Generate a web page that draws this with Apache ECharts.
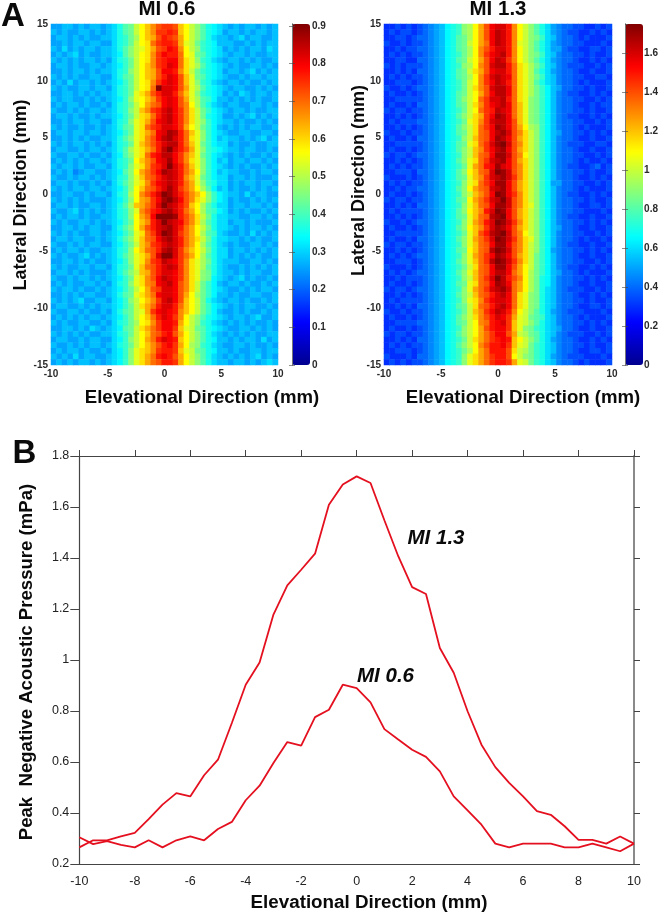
<!DOCTYPE html>
<html>
<head>
<meta charset="utf-8">
<style>html,body{margin:0;padding:0;background:#fff}#c{width:661px;height:914px}#c canvas{filter:blur(.4px)}</style>
<script src="https://cdn.jsdelivr.net/npm/echarts@6/dist/echarts.min.js"></script>
</head>
<body>
<div id="c"></div>
<script>
// Line plot readings (panel B), x = elevational direction in mm
var elevation = [-10,-9.5,-9,-8.5,-8,-7.5,-7,-6.5,-6,-5.5,-5,-4.5,-4,-3.5,-3,-2.5,-2,-1.5,-1,-0.5,0,0.5,1,1.5,2,2.5,3,3.5,4,4.5,5,5.5,6,6.5,7,7.5,8,8.5,9,9.5,10];
var mi06Line = [0.305,0.278,0.29,0.275,0.265,0.293,0.265,0.293,0.308,0.293,0.337,0.365,0.45,0.507,0.596,0.678,0.664,0.776,0.805,0.903,0.89,0.834,0.729,0.688,0.648,0.62,0.563,0.465,0.41,0.354,0.28,0.265,0.28,0.28,0.28,0.265,0.265,0.28,0.265,0.25,0.28];
var mi13Line = [0.265,0.293,0.293,0.308,0.322,0.376,0.433,0.478,0.465,0.548,0.609,0.753,0.903,0.99,1.178,1.293,1.354,1.417,1.609,1.688,1.72,1.694,1.548,1.407,1.286,1.259,1.047,0.95,0.799,0.668,0.58,0.518,0.465,0.407,0.393,0.348,0.295,0.295,0.28,0.308,0.28];

// Heatmap cells: one string per lateral row from +15 down to -15, one base-36 level per elevational column
// (level 0..z = 0..35 of the panel's peak pressure)
var mi06Peak = 0.9, mi13Peak = 1.75;
var mi06Rows = [
"aabbababbab ceghkmoqsttsomkigedc bababbabab",
"babaabbabab ceghkmoqttutomkigedc abbababbab",
"abbababaabb cefhjmopsutspmkigecb babcabbaab",
"aababbabbaa cefhkmnrtuutplkhfedb bbaabababb",
"bacababbabb cegiklnpstvuqmkifedc abababbacb",
"ababcabaabb cdgikmnqtvuurmlhgedc babbabaabb",
"babababbaba cefhkmnqtuvvrnlifecb abbababaab",
"abbabaabbab cdfhkmoqtuwvrnljgedc babaabbaba",
"aababbababb cefikmopsvvuqnkhfedc abbabcabab",
"bababaabbaa ceghkmopsuwvsolhgedc baababbabb",
"abacabbabab cdfhkmnqtvwvsolifecb abbabaabab",
"babaabbabba cefhkmnrzwwvspljgedc babbaababa",
"aabbabababb cefhlnpsuwwurolifedc abacbabbab",
"babbaababab cdfilmoqtvwvspljgfdb babababaab",
"ababbabaaba cefhkmprsvwvsqmjgecb abbaabbaba",
"baabababbab cefikoqtuwxvtqnkhfdc babbabaabb",
"abbabaababb cdfhknoruwxvtqnkhedc aababcabab",
"aababbabbaa cefilnpsvwxvtqnkifdc bbabaababa",
"babaabaabab ceghlnrtuwwvtpmkhfdb abababbaab",
"abbabbabbab cdfhlnprvwyxurolifdc baabbaabba",
"aabababaabb cegilnqsvxywurnlifdb cbbababcab",
"bababbababa cefhloqsuwxxurolhfdc cabaabaabb",
"abbaababbab cegjlnpruxzwusplifed cbbabbaaba",
"baabbabaaba cdgilnruvxxvtqolhfdc bababaabab",
"ababababbab cefhmoqsvwyvtqnlifdb cabbabbaba",
"babbabaabba cefilnqtuwzwurolifdc bababaabab",
"abab9abbaab cdgimprtvyxwurpmifdb cbbaababba",
"baababbabab cefilorsuwxwuqolhfdc cabbabaaab",
"abbabaababa cegilnqtvwxwurplifec cababbabba",
"bababbabbab cdfimorsuwywtrpmjgdb cabaababab",
"aabbaababba cefjmqsuwzywusqomifd cbbacabbaa",
"babababaaab cdfimpqtvyzxvsqnlifd cabaababab",
"abbabaabbab cegjoprtwzxwusomjgec cabbabbaba",
"baabcababab cefilqsuvxywurpmjgfd cababaabab",
"ababbabaabb cefimprvzzzyusqnkhec cbbaabbaba",
"babaabbabab cdfhmoquwzxwvsqnjgec cabbabaaab",
"aabbababbaa cegimpsuwxywurpmkhec cbababbaba",
"bababaabbab cdfhlnrtwzywtrpmjgfc baabacabab",
"abbabbaabab cegilorsvxywurpnkhec cbbababaab",
"baabababbaa cdfhkoqtuwxwurpmjgec babaabbaba",
"ababbabaabb cefimorsuxywtqomkhec cabbababab",
"babaabcabab cegilnpswzzwtrpmjgec cabababaab",
"aabbababaab cdfilnqtuxwvtqnljhec bbbaabbaba",
"babaabbabba cefhlorsuwxwtqnljgec baabababab",
"abbababaaab cegikopsuwwvtqnlihec bbababbaab",
"baababbabab cdfhlnqsvxwvtqnlihdc babcabaaba",
"ababaabbaba cefilnqrvwxvsqnkhfdb abbabaabab",
"babbabaabab cdfhkmpstwwvsqnkhfdc baabababba",
"aabababbaab ceghlnprvwwvspmjhfdb babaabbaab",
"bababcaabba cdfikmoqtwxvsomkhecb abbabaabab",
"abbaabababb cdfhknpruwwuromkhfdc bababbaaba",
"baabbabaaba ceghklptvwvuqomkhfdb aababaabab",
"ababababbab cdfhkmoruwvtqmkigedc babbabcaab",
"babaabbaaba cefhjmnqtvvupmkifecb abababaaba",
"aabbabacbab cdghknprtvvtolkhgedc baabbababa",
"babababaabb cefhkmorsuvspmkigecb abababaabb",
"abbaababbaa cdfikmpruwvuomkigedb bababbacab",
"baabababbab cefhkmoqsuvtpmjifecb aabbabaaba",
"ababbabaaba cdfilnoqtuutolkhgedb babaabbabb",
"babacabbaab cdfilnpruvuspmkigecb abababcaba",
"abababbabab cdfilnprsuutpmkigecb babbababcb"
];
var mi13Rows = [
"667676789ab defijmpsvwwuqmkigeca 9887766767",
"676776789ab defijmpsvxwuqmkigeca 9877667676",
"667767889ab deghjmpsvxwuqmkihfcb 9887676667",
"766767789ab deghkmprvxwuqlkigeca 9887766676",
"667677889ab deghjmqsuwwuqmkigeca a877667767",
"676767789ab defhjmqtvwxuqmkihfcb 9887767667",
"667766889ab deghkmpsvxwtqmkigeca 9887667676",
"767677789ab defijmqswxxurnljhfcb 9877766767",
"667676889ab deghknpsvwwurnljgeca 9887667667",
"676767789ab deghjmqtwxwvrnljhfcb 9887766776",
"667776789ab defhkmqtvxwurnljgecb 9887676667",
"766767889ab defhknqswxxvrnljhfdb a887767667",
"676676789ab deghkmpsvxxvrnljhfdb 9877667676",
"667777789ab degikmrtwwxurnlihfdb 9887766767",
"676676889ab deghknqtvwxvrolihfdb 9887667677",
"767767789ab defhkmrtuxwvrolihfdb 9887767667",
"667676789ab degiknptvyxvrolihfdb 9877667676",
"676777889ab defhlnqtwxxvsolihfdb 9887766767",
"667676789ab degiknrtvyxvspmjifdb 9887676667",
"766767789ab deghknrsvxywsqnkifdb a887767676",
"676676889ab defikorsvyxvspnkifdb 9887667667",
"667777789ab deghlnrtwyzwsqnkifdb 9877766776",
"676676789ab degikoqtvxyvspnkifdb 9887667667",
"767767889ab defikorsvyywsqmkifdb 9887766767",
"667676789ab degilnrtwxyvspnkifdb 9887676676",
"676767789ab defhlpruvywvsqnkifdb 9877667867",
"667776889ab degimorswzywsqnkifdb 9887767667",
"766676789ab deghloqtwxywtqnkifdb 9887667676",
"676767789ab defilnrtvyyvspnkifda a887766767",
"667677889ab degimprswxyvspnkifdb 9887676667",
"676676789ab defikoqsvzyvtqnkifdb 9877667676",
"767767789ab deghmprtwxzwsqnkifdb 9887767667",
"667676889ab defilorsvyywsqnlifdb 9887667767",
"676777789ab degimoquwzyvspnkifdb 9887766676",
"667676789ab deghlorsxyzvspnkifdb 9877667667",
"766767889ab defilpruwzywtqnkifdb 9887767676",
"676676789ab degimoqtwyxvspnkifdb a887667667",
"667777789ab defhlosuxyzwsqmkifdb 9887766767",
"676676889ab degilprtwzywtqnlifdb 9887676676",
"767767789ab defilorsvyyvsqnkifdb 9877667667",
"667676789ab deghmorsxzywsqnkifda 9887767676",
"676767889ab defilprtvyxvspnkhfdb 9887667667",
"667776789ab degilortxzywtqnkhfdb 9887766767",
"766676789ab defhknrsvyyvspmkhfdb 9877667676",
"676767889ab degilorsvxxvrpmjhfdb a887676667",
"667677789ab defikortwzxusqmjhedb 9887767676",
"676676789ab deghlnrsvyxvrpmjhedb 9887667667",
"767767889ab defilprtwxywrpmjhecb 9877766767",
"667676789ab degikorsuwxvrnlihecb 9887667676",
"676777789ab defilnqtvwwvrnlihecb 9887767667",
"667676889ab deghknrsuwxvrnlihecb 9887667767",
"766767789ab defhkoqtvxwuqmkigeca 9877766676",
"676676789ab degiknqsuwvtplkhgfcb 9887676667",
"667777889ab deghkmqruvwtolkigecb 9887767676",
"676676789ab defikmpsuvvtolihfecb a887667667",
"767767789ab degikmprtvvspkjhgecb 9877766767",
"667676889ab defhknprtuvuomkigeca 9887667676",
"676767789ab degikmqsuuvtolkhfecb 9887767667",
"667776789ab defhjmpruuusnkjhfecb 9887667767",
"766676889ab defilnprtuusmkihfeca 9877766676",
"676767789ab defilnprtuutplkhfecb 9887676667"
];

// Axis tick and colour-scale settings
var elevationCats = elevation.map(String);
var lateralCats = mi06Rows.map(function (_, i) { return String(-15 + i * 0.5); });
var jet = ['#00008f','#0000ff','#0080ff','#00ffff','#80ff80','#ffff00','#ff8000','#ff0000','#800000'];

function cells(rows, peak) {
  var out = [];
  rows.forEach(function (row, r) {
    var s = row.replace(/ /g, '');
    for (var c = 0; c < s.length; c++) {
      out.push([c, rows.length - 1 - r, +(parseInt(s[c], 36) / 35 * peak).toFixed(3)]);
    }
  });
  return out;
}

var FONT = '"Liberation Sans", Arial, sans-serif';
var heatLabel = {color:'#2a2a2a', fontSize:10, fontFamily:FONT, fontWeight:'bold'};
function heatValueX(gridIndex) {
  return {type:'value', gridIndex:gridIndex, position:'bottom', min:-10, max:10, interval:5,
    axisLine:{show:false}, axisTick:{show:false}, splitLine:{show:false},
    axisLabel:Object.assign({margin:4, hideOverlap:false}, heatLabel)};
}
function heatValueY(gridIndex) {
  return {type:'value', gridIndex:gridIndex, position:'left', min:-15, max:15, interval:5,
    axisLine:{show:false}, axisTick:{show:false}, splitLine:{show:false},
    axisLabel:Object.assign({margin:3}, heatLabel)};
}
function catAxis(gridIndex, data) {
  return {type:'category', gridIndex:gridIndex, data:data, show:false, boundaryGap:true};
}
function barX(gridIndex) {
  return {type:'value', gridIndex:gridIndex, min:0, max:1, show:false};
}
function barY(gridIndex, max, interval, side) {
  return {type:'value', gridIndex:gridIndex, position:side, min:0, max:max, interval:interval, z:10,
    axisLine:{show:true, lineStyle:{color:'#777', width:1}},
    axisTick:{show:true, inside:true, length:3, lineStyle:{color:'#444', opacity:0.6, width:1}},
    splitLine:{show:false},
    axisLabel: side === 'right'
      ? Object.assign({margin:2, showMaxLabel:false}, heatLabel)
      : {show:false}};
}
var lineTick = {color:'#222', fontSize:12.5, fontFamily:FONT};
var lineAxisColor = '#444';

var option = {
  animation:false,
  backgroundColor:'#fff',
  grid:[
    {left:51, top:24, width:227, height:341},
    {left:292, top:24, width:18, height:341},
    {left:384, top:24, width:228, height:341},
    {left:625, top:24, width:18, height:341},
    {left:79.3, top:456, width:554.7, height:408}
  ],
  xAxis:[
    catAxis(0, elevationCats),
    heatValueX(0),
    barX(1),
    catAxis(2, elevationCats),
    heatValueX(2),
    barX(3),
    {type:'value', gridIndex:4, position:'bottom', min:-10, max:10, interval:2,
      axisLine:{show:true, onZero:false, lineStyle:{color:lineAxisColor, width:1.2}},
      axisTick:{show:false}, splitLine:{show:false},
      axisLabel:Object.assign({margin:11}, lineTick)},
    {type:'value', gridIndex:4, position:'top', min:-10, max:10, interval:2,
      axisLine:{show:true, onZero:false, lineStyle:{color:lineAxisColor, width:1.2}},
      axisTick:{show:true, length:6, lineStyle:{color:lineAxisColor, width:1}},
      splitLine:{show:false}, axisLabel:{show:false}}
  ],
  yAxis:[
    catAxis(0, lateralCats),
    heatValueY(0),
    barY(1, 0.905, 0.1, 'right'),
    barY(1, 0.905, 0.1, 'left'),
    catAxis(2, lateralCats),
    heatValueY(2),
    barY(3, 1.752, 0.2, 'right'),
    barY(3, 1.752, 0.2, 'left'),
    {type:'value', gridIndex:4, position:'left', min:0.2, max:1.8, interval:0.2,
      axisLine:{show:true, onZero:false, lineStyle:{color:lineAxisColor, width:1.2}},
      axisTick:{show:true, length:9, lineStyle:{color:lineAxisColor, width:1}},
      splitLine:{show:false},
      axisLabel:Object.assign({margin:10}, lineTick)},
    {type:'value', gridIndex:4, position:'right', min:0.2, max:1.8, interval:0.2,
      axisLine:{show:true, onZero:false, lineStyle:{color:'#8a8a8a', width:2}},
      axisTick:{show:true, length:6, lineStyle:{color:lineAxisColor, width:1}},
      splitLine:{show:false}, axisLabel:{show:false}}
  ],
  visualMap:[
    {type:'continuous', seriesIndex:0, min:0, max:0.905, left:292, top:24, itemWidth:18, itemHeight:341,
      padding:0, showLabel:false, text:null, calculable:false, hoverLink:false, realtime:false,
      inRange:{color:jet}},
    {type:'continuous', seriesIndex:1, min:0, max:1.752, left:625, top:24, itemWidth:18, itemHeight:341,
      padding:0, showLabel:false, text:null, calculable:false, hoverLink:false, realtime:false,
      inRange:{color:jet}}
  ],
  series:[
    {type:'heatmap', name:'MI 0.6', xAxisIndex:0, yAxisIndex:0, data:cells(mi06Rows, mi06Peak), progressive:0, itemStyle:{borderWidth:0}},
    {type:'heatmap', name:'MI 1.3', xAxisIndex:3, yAxisIndex:4, data:cells(mi13Rows, mi13Peak), progressive:0, itemStyle:{borderWidth:0}},
    {type:'line', name:'MI 1.3 profile', xAxisIndex:6, yAxisIndex:8, symbol:'none', smooth:false,
      lineStyle:{color:'#e4101f', width:1.8},
      data:elevation.map(function (x, i) { return [x, mi13Line[i]]; })},
    {type:'line', name:'MI 0.6 profile', xAxisIndex:6, yAxisIndex:8, symbol:'none', smooth:false,
      lineStyle:{color:'#e4101f', width:1.8},
      data:elevation.map(function (x, i) { return [x, mi06Line[i]]; })}
  ],
  graphic:[
    label('A', 13, 16.5, 33, 'bold', 0),
    label('B', 24.5, 454, 33, 'bold', 0),
    label('MI 0.6', 167, 9, 20.5, 'bold', 0),
    label('MI 1.3', 498, 9, 20.5, 'bold', 0),
    label('Lateral Direction (mm)', 21, 195, 18, 'bold', Math.PI/2),
    label('Lateral Direction (mm)', 359, 180.5, 18, 'bold', Math.PI/2),
    label('Elevational Direction (mm)', 202, 398, 18.6, 'bold', 0),
    label('Elevational Direction (mm)', 523, 398, 18.6, 'bold', 0),
    label('Elevational Direction (mm)', 369, 903, 18.8, 'bold', 0),
    label('Peak  Negative Acoustic Pressure (mPa)', 27, 662, 18.6, 'bold', Math.PI/2),
    label('MI 1.3', 436, 538, 20.5, 'italic bold', 0),
    label('MI 0.6', 385.5, 676, 20.5, 'italic bold', 0)
  ]
};
function label(text, x, y, size, weight, rot) {
  return {type:'text', x:x, y:y, rotation:rot, z:20, silent:true,
    style:{text:text, fill:'#0a0a0a', textAlign:'center', textVerticalAlign:'middle',
      font:weight + ' ' + size + 'px ' + FONT}};
}
var chart = echarts.init(document.getElementById('c'), null, {renderer:'canvas', width:661, height:914});
chart.setOption(option);
</script>
</body>
</html>
